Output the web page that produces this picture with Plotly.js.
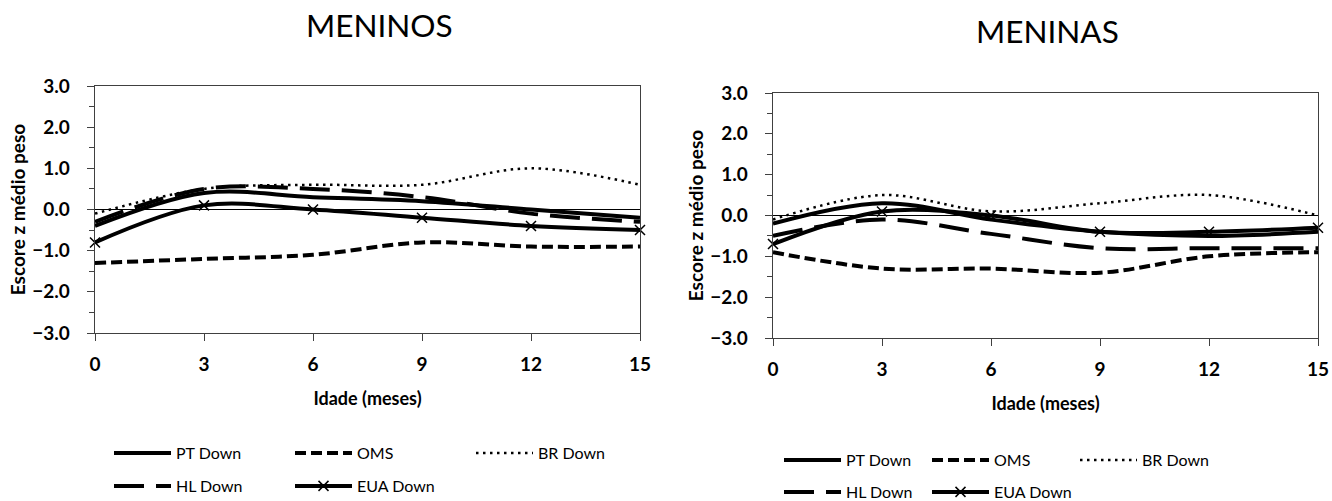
<!DOCTYPE html>
<html>
<head>
<meta charset="utf-8">
<script src="https://cdn.plot.ly/plotly-3.0.1.min.js"></script>
<style>html,body{margin:0;padding:0;background:#fff;}#chart{width:1332px;height:501px;}</style>
</head>
<body>
<div id="chart"></div>
<script>
// Ages (months)
const ages = [0, 3, 6, 9, 12, 15];
const xTicks = [0, 3, 6, 9, 12, 15];

// MENINOS
const boysPT  = [-0.4, 0.4, 0.3, 0.2, 0.0, -0.2];
const boysOMS = [-1.3, -1.2, -1.1, -0.8, -0.9, -0.9];
const boysBR  = [-0.1, 0.5, 0.6, 0.6, 1.0, 0.6];
const boysHL  = [-0.3, 0.5, 0.5, 0.3, -0.1, -0.3];
const boysEUA = [-0.8, 0.1, 0.0, -0.2, -0.4, -0.5];

// MENINAS
const girlsPT  = [-0.2, 0.3, -0.1, -0.4, -0.5, -0.4];
const girlsOMS = [-0.9, -1.3, -1.3, -1.4, -1.0, -0.9];
const girlsBR  = [-0.1, 0.5, 0.1, 0.3, 0.5, 0.0];
const girlsHL  = [-0.5, -0.1, -0.45, -0.8, -0.8, -0.8];
const girlsEUA = [-0.7, 0.1, 0.0, -0.4, -0.4, -0.3];

const seriesNames = ['PT Down', 'OMS', 'BR Down', 'HL Down', 'EUA Down'];
const titles = ['MENINOS', 'MENINAS'];
const xTitle = 'Idade (meses)';
const yTitle = 'Escore z médio peso';

const FONT = 'Lato, "Open Sans", sans-serif';
const styles = [
  {line: {color: '#000', width: 4, dash: 'solid', shape: 'spline', smoothing: 1}, mode: 'lines'},
  {line: {color: '#000', width: 4, dash: '11px,5px', shape: 'spline', smoothing: 1}, mode: 'lines'},
  {line: {color: '#000', width: 2.5, dash: '2.5px,4.5px', shape: 'spline', smoothing: 1}, mode: 'lines'},
  {line: {color: '#000', width: 4, dash: '30px,12px', shape: 'spline', smoothing: 1}, mode: 'lines'},
  {line: {color: '#000', width: 4, dash: 'solid', shape: 'spline', smoothing: 1}, mode: 'lines+markers',
   marker: {symbol: 'x-thin', size: 10, color: '#000', line: {color: '#000', width: 1.5}}}
];

function makeTraces(data, xa, ya, legA, legB) {
  return data.map((vals, i) => Object.assign({
    type: 'scatter', x: ages, y: vals, name: seriesNames[i],
    xaxis: xa, yaxis: ya, cliponaxis: false,
    legend: i < 3 ? legA : legB
  }, JSON.parse(JSON.stringify(styles[i]))));
}

const traces = []
  .concat(makeTraces([boysPT, boysOMS, boysBR, boysHL, boysEUA], 'x', 'y', 'legend', 'legend2'))
  .concat(makeTraces([girlsPT, girlsOMS, girlsBR, girlsHL, girlsEUA], 'x2', 'y2', 'legend3', 'legend4'));

function xAxis(domain, anchor) {
  return {
    domain: domain, anchor: anchor, range: [0, 15], tickvals: xTicks,
    showgrid: false, zeroline: false, showline: true, linecolor: '#404040', linewidth: 1.3,
    mirror: true, ticks: 'outside', ticklen: 7, tickcolor: '#404040', ticklabelstandoff: 7,
    tickfont: {family: FONT, size: 19, color: '#000', weight: 'bold'},
    title: {text: '<b>' + xTitle + '</b>', font: {family: FONT, size: 18, color: '#000'}, standoff: 18}
  };
}
function yAxis(domain, anchor) {
  return {
    domain: domain, anchor: anchor, range: [-3, 3], dtick: 1, tick0: 0, tickformat: '.1f',
    showgrid: false, zeroline: true, zerolinecolor: '#000', zerolinewidth: 1,
    showline: true, linecolor: '#404040', linewidth: 1.3, mirror: true,
    ticks: 'outside', ticklen: 7, tickcolor: '#404040', ticklabelstandoff: 13,
    minor: {dtick: 0.5, ticks: 'outside', ticklen: 5, tickcolor: '#404040', showgrid: false},
    tickfont: {family: FONT, size: 19, color: '#000', weight: 'bold'},
    title: {text: '<b>' + yTitle + '</b>', font: {family: FONT, size: 19, color: '#000'}, standoff: 1}
  };
}

function legend(x, y, w) {
  return {
    orientation: 'h', x: x, y: y, xanchor: 'left', yanchor: 'middle',
    xref: 'paper', yref: 'paper', entrywidth: w, entrywidthmode: 'pixels', itemwidth: 57,
    bgcolor: 'rgba(0,0,0,0)', borderwidth: 0,
    font: {family: FONT, size: 16, color: '#000'}, traceorder: 'normal'
  };
}
const H = 501, W = 1332;

const layout = {
  width: W, height: H, margin: {l: 0, r: 0, t: 0, b: 0, autoexpand: false},
  paper_bgcolor: '#fff', plot_bgcolor: '#fff',
  font: {family: FONT, color: '#000'},
  xaxis: xAxis([95 / W, 640 / W], 'y'),
  yaxis: yAxis([1 - 333 / H, 1 - 86 / H], 'x'),
  xaxis2: xAxis([773 / W, 1318 / W], 'y2'),
  yaxis2: yAxis([1 - 338 / H, 1 - 93 / H], 'x2'),
  legend: legend(109 / W, 1 - 453 / H, 109),
  legend2: legend(109 / W, 1 - 486 / H, 109),
  legend3: legend(779 / W, 1 - 460 / H, 76),
  legend4: legend(779 / W, 1 - 492 / H, 76),
  annotations: [
    {text: titles[0], x: 379 / W, y: 1 - 25 / H, xref: 'paper', yref: 'paper', showarrow: false,
     xanchor: 'center', yanchor: 'middle', font: {family: FONT, size: 31.5, color: '#000'}},
    {text: titles[1], x: 1047 / W, y: 1 - 31.5 / H, xref: 'paper', yref: 'paper', showarrow: false,
     xanchor: 'center', yanchor: 'middle', font: {family: FONT, size: 31.5, color: '#000'}}
  ]
};

Plotly.newPlot('chart', traces, layout, {displayModeBar: false, staticPlot: true});
</script>
</body>
</html>
